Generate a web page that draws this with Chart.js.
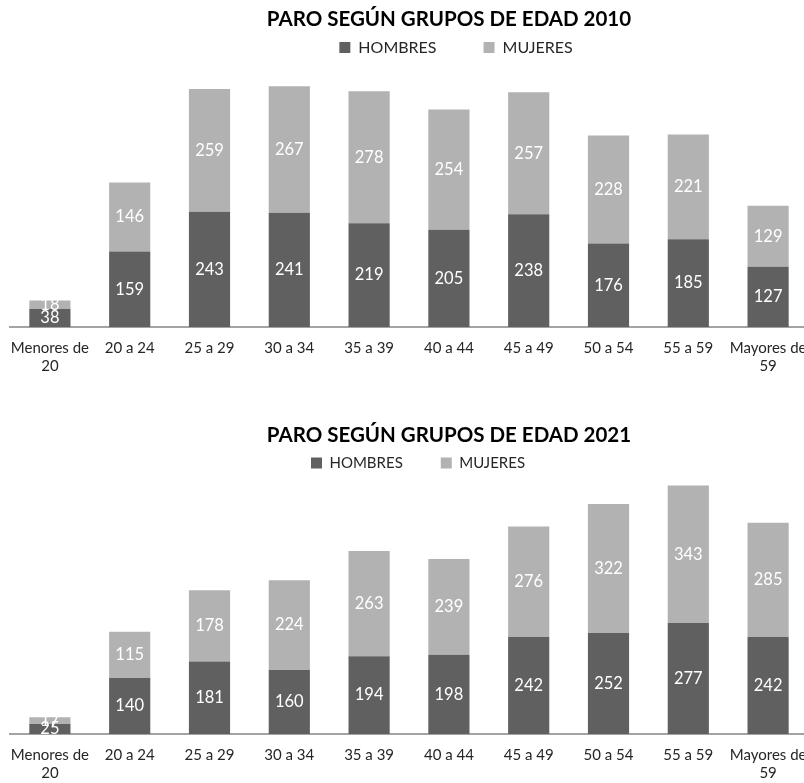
<!DOCTYPE html>
<html>
<head>
<meta charset="utf-8">
<script src="https://cdn.jsdelivr.net/npm/chart.js@4.4.1/dist/chart.umd.min.js"></script>
<style>
  html, body { margin: 0; padding: 0; background: #fff; overflow: hidden; }
  .box { position: absolute; left: 0; width: 804px; overflow: hidden; }
  #b1 { top: 0; height: 391px; }
  #b2 { top: 391px; height: 392px; }
</style>
</head>
<body>
<div class="box" id="b1"><canvas id="c1" width="808" height="391"></canvas></div>
<div class="box" id="b2"><canvas id="c2" width="808" height="392"></canvas></div>
<script>
// Grupos de edad (eje X)
const ageGroups = [
  ['Menores de', '20'], '20 a 24', '25 a 29', '30 a 34', '35 a 39',
  '40 a 44', '45 a 49', '50 a 54', '55 a 59', ['Mayores de', '59']
];
const seriesNames = ['HOMBRES', 'MUJERES'];

// Paro 2010 (miles)
const hombres2010 = [38, 159, 243, 241, 219, 205, 238, 176, 185, 127];
const mujeres2010 = [18, 146, 259, 267, 278, 254, 257, 228, 221, 129];

// Paro 2021 (miles)
const hombres2021 = [25, 140, 181, 160, 194, 198, 242, 252, 277, 242];
const mujeres2021 = [17, 115, 178, 224, 263, 239, 276, 322, 343, 285];

const DARK = '#606060';
const LIGHT = '#b2b2b2';
const FONT = 'Lato, "Open Sans", sans-serif';

// Etiquetas de valor centradas en cada segmento
const valueLabels = {
  id: 'valueLabels',
  afterDatasetsDraw(chart) {
    const ctx = chart.ctx;
    ctx.save();
    ctx.fillStyle = '#ffffff';
    ctx.font = '16.5px ' + FONT;
    ctx.textAlign = 'center';
    ctx.textBaseline = 'middle';
    chart.data.datasets.forEach((ds, i) => {
      const meta = chart.getDatasetMeta(i);
      meta.data.forEach((bar, j) => {
        const p = bar.getCenterPoint();
        ctx.fillText(String(ds.data[j]), p.x, p.y);
      });
    });
    ctx.restore();
  }
};

// Recoloca título y leyenda respecto al área del gráfico
const shiftHeader = {
  id: 'shiftHeader',
  afterLayout(chart, args, opts) {
    const t = chart.titleBlock;
    if (t) {
      t.left += opts.titleX;
      t.right += opts.titleX;
    }
    const lg = chart.legend;
    if (lg) {
      lg.left += opts.legendX;
      lg.right += opts.legendX;
      lg.top += opts.legendY;
      lg.bottom = lg.top + 80;
      lg.height = 80;
    }
  }
};

function makeChart(id, title, men, women, yMax, pad, legendFont, legendGap, shift) {
  return new Chart(document.getElementById(id), {
    type: 'bar',
    data: {
      labels: ageGroups,
      datasets: [
        { label: seriesNames[0], data: men, backgroundColor: DARK },
        { label: seriesNames[1], data: women, backgroundColor: LIGHT }
      ]
    },
    options: {
      responsive: false,
      animation: false,
      devicePixelRatio: 1,
      layout: { padding: pad },
      datasets: { bar: { categoryPercentage: 1, barPercentage: 0.516 } },
      scales: {
        x: {
          stacked: true,
          grid: { display: false, drawTicks: false },
          border: { display: true, color: '#a3a3a3', width: 2 },
          ticks: {
            color: '#262626',
            font: { family: FONT, size: 15, lineHeight: 1.2 },
            padding: 12,
            maxRotation: 0,
            autoSkip: false
          },
          // las etiquetas extremas pueden salirse del borde
          afterFit(scale) {
            scale.paddingLeft = 0;
            scale.paddingRight = 0;
          }
        },
        y: {
          stacked: true,
          display: false,
          min: 0,
          max: yMax
        }
      },
      plugins: {
        title: {
          display: true,
          text: title,
          color: '#000000',
          font: { family: FONT, size: 20.5, weight: 'bold', lineHeight: 1.2 },
          padding: { top: 7, bottom: 0 }
        },
        legend: {
          display: true,
          maxHeight: 28,
          labels: {
            color: '#262626',
            font: { family: FONT, size: legendFont },
            boxWidth: 11,
            boxHeight: 11,
            padding: legendGap
          }
        },
        tooltip: { enabled: false },
        shiftHeader: shift
      }
    },
    plugins: [valueLabels, shiftHeader]
  });
}

makeChart('c1', 'PARO SEGÚN GRUPOS DE EDAD 2010', hombres2010, mujeres2010, 564,
  { left: 10, right: 0, top: 0, bottom: 4 }, 16, 47,
  { titleX: 40, legendX: 47, legendY: -39 });
makeChart('c2', 'PARO SEGÚN GRUPOS DE EDAD 2021', hombres2021, mujeres2021, 645,
  { left: 10, right: 0, top: 25, bottom: -11 }, 15, 38,
  { titleX: 40, legendX: 9, legendY: -30 });
</script>
</body>
</html>
